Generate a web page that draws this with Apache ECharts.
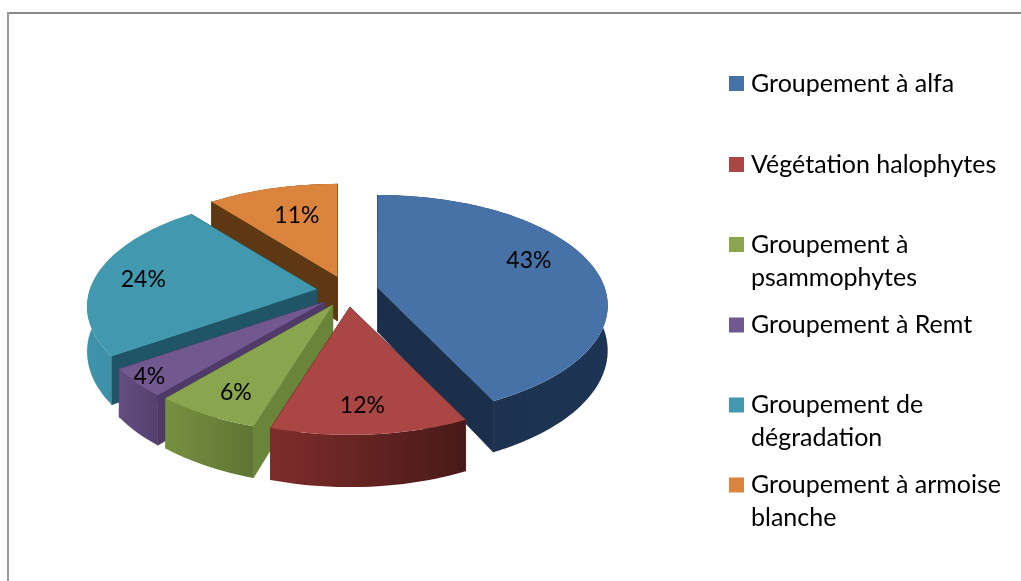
<!DOCTYPE html>
<html><head><meta charset="utf-8">
<style>html,body{margin:0;padding:0;background:#fff}#c{width:1021px;height:581px}</style>
<script src="https://cdn.jsdelivr.net/npm/echarts@6/dist/echarts.min.js"></script>
</head><body><div id="c"></div>
<script>
const categories = ['Groupement à alfa','Végétation halophytes','Groupement à psammophytes','Groupement à Remt','Groupement de dégradation','Groupement à armoise blanche'];
const values = [42.8,12,6.4,4.2,23.9,10.7];
const legendLines = [['Groupement à alfa'],['Végétation halophytes'],['Groupement à','psammophytes'],['Groupement à Remt'],['Groupement de','dégradation'],['Groupement à armoise','blanche']];

const topColors = ['#4672A8','#AA4644','#89A64F','#71598F','#4198AF','#DB843D'];
const outerFrom = ['#1B304C','#7E2D2B','#76903F','#644D80','#3F93AA','#5E3813'];
const outerTo   = ['#1D3454','#481A17','#5F7534','#55406F','#37859B','#5E3813'];
const wallColors= ['#1B2F4B','#5A2320','#6A843A','#4F3A69','#1F5566','#5E3813'];
const labelOffset = [[0,-11],[-1,14],[-12,14],[-48,20],[-19,1],[7,3]];
const legendCenters = [83.5,164.5,244.5,325,405,485];
const drawOrder = [0,5,4,3,2,1];

const G = {cx:347.6, cy:291.5, explode:31, squash:0.5, a:227, b:107.7, k:0.158, depth:44, labelR:0.7};
const total = values.reduce((s,v)=>s+v,0);
const starts = []; values.reduce((s,v,i)=>{starts[i]=s; return s+v;},0);
const rad = v => v/total*2*Math.PI;

function project(apex, th, r, down){
  const s=Math.sin(th), c=Math.cos(th), p=1/(1+G.k*c*r);
  return [apex[0]+G.a*s*r*p, apex[1]-G.b*c*r*p+(down?G.depth*p:0)];
}
function makeItem(i){
  return function(params, api){
    const v = api.value(0), t0 = rad(starts[i]), t1 = rad(starts[i]+v), m=(t0+t1)/2;
    const apex = [G.cx+G.explode*Math.sin(m), G.cy-G.explode*G.squash*Math.cos(m)];
    const n = Math.max(8, Math.round(v*2));
    const arcTop=[], arcBot=[];
    for(let j=0;j<=n;j++){
      const t=t0+(t1-t0)*j/n;
      arcTop.push(project(apex,t,1,false));
      arcBot.push(project(apex,t,1,true));
    }
    const apexB = project(apex,0,0,true);
    const wallFill = wallColors[i];
    const wallStyle = {fill:wallFill,stroke:wallFill,lineWidth:0.8};
    const children = [
      {type:'polygon',shape:{points:[apex,arcTop[0],arcBot[0],apexB]},style:wallStyle},
      {type:'polygon',shape:{points:[apex,arcTop[n],arcBot[n],apexB]},style:wallStyle},
      {type:'polygon',shape:{points:arcTop.concat(arcBot.slice().reverse())},
        style:{fill:new echarts.graphic.LinearGradient(0,0,1,0,[{offset:0,color:outerFrom[i]},{offset:1,color:outerTo[i]}])}},
      {type:'polygon',shape:{points:[apex].concat(arcTop)},style:{fill:topColors[i]}}
    ];
    const lp = project(apex,m,G.labelR,false);
    children.push({type:'text',style:{x:lp[0]+labelOffset[i][0],y:lp[1]+labelOffset[i][1],text:Math.round(v)+'%',
      align:'center',verticalAlign:'middle',fontFamily:'Lato',fontSize:23,fill:'#000'}});
    return {type:'group',children};
  };
}

const series = categories.map((name,i)=>({
  type:'custom', name, coordinateSystem:'none', silent:true,
  z:2+drawOrder.indexOf(i),
  itemStyle:{color:topColors[i]},
  data:[[values[i]]],
  renderItem:makeItem(i)
}));

const LH = 33;
const legend = categories.map((name,i)=>{
  const lines = legendLines[i];
  const two = lines.length>1;
  return {
    data:[name], orient:'vertical', left:729, top:legendCenters[i]-(two?LH*1.5:LH*0.5),
    padding:0, itemWidth:15, itemHeight:15, itemGap:0, icon:'rect', selectedMode:false,
    formatter:()=> two ? '\n'+lines.join('\n') : lines[0],
    textStyle:{fontFamily:'Lato',fontSize:25,color:'#000',lineHeight:LH,padding:[0,0,0,2]}
  };
});

const chart = echarts.init(document.getElementById('c'),null,{renderer:'canvas'});
chart.setOption({
  animation:false, backgroundColor:'#fff',
  legend, series,
  graphic:[
    {type:'line',shape:{x1:8,y1:13,x2:1021,y2:13},style:{stroke:'#888',lineWidth:2}},
    {type:'line',shape:{x1:8,y1:12,x2:8,y2:581},style:{stroke:'#999',lineWidth:2}}
  ]
});
</script></body></html>
